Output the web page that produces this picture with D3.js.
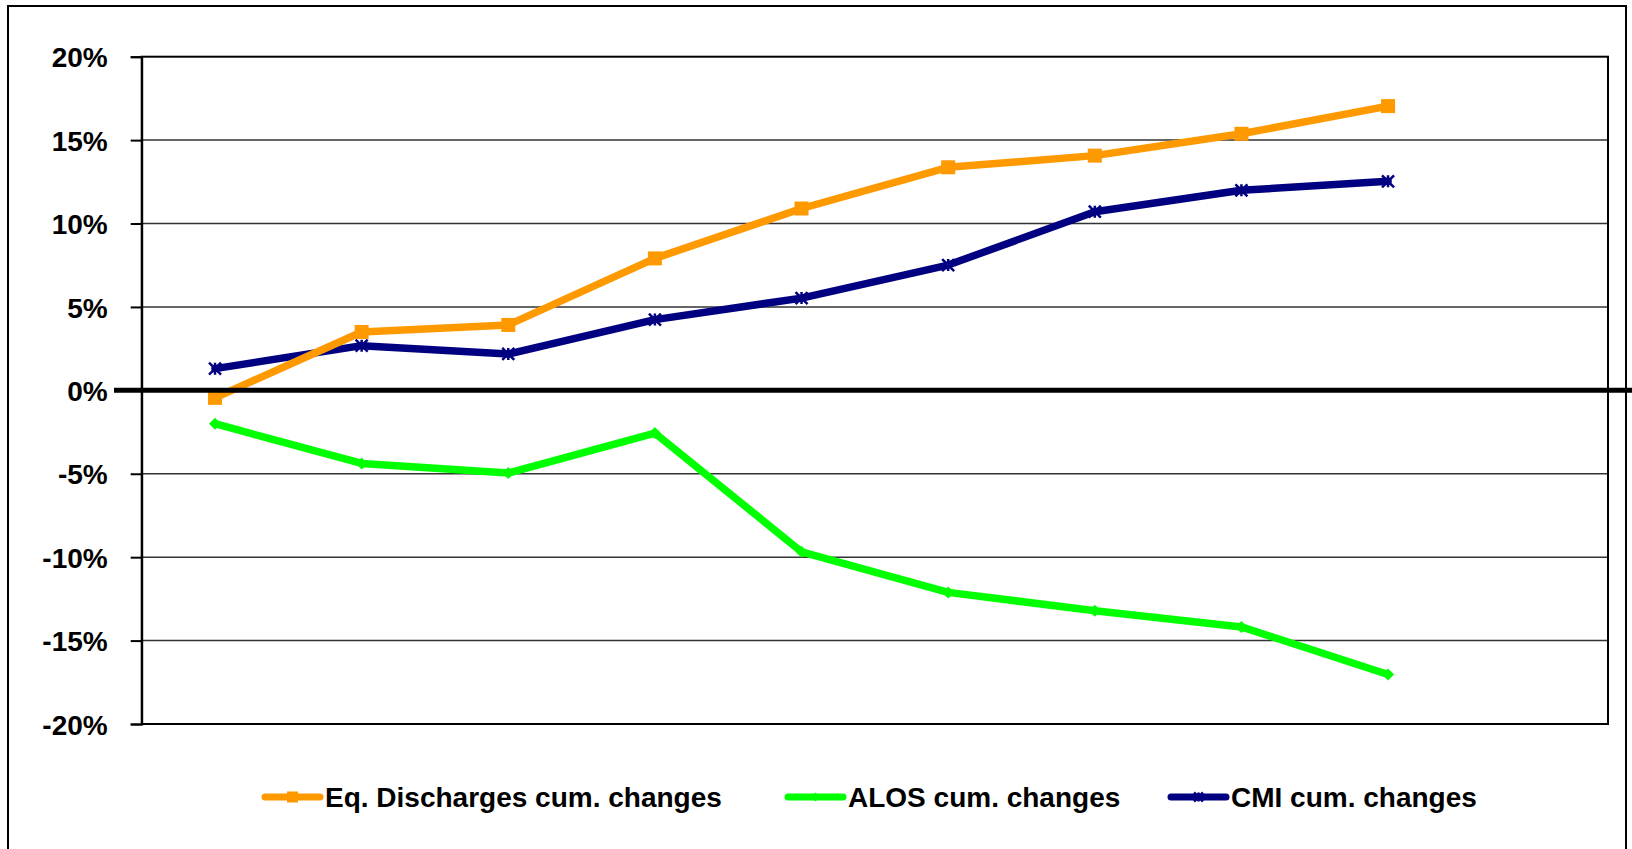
<!DOCTYPE html>
<html>
<head>
<meta charset="utf-8">
<script src="https://cdn.jsdelivr.net/npm/d3@7"></script>
<style>
  html, body { margin: 0; padding: 0; background: #fff; }
  svg { display: block; }
  text { font-family: "Liberation Sans", Arial, sans-serif; font-weight: bold; fill: #000; }
</style>
</head>
<body>
<svg id="chart" width="1632" height="849"></svg>
<script>
// ---- data ----
const categories = ["P1","P2","P3","P4","P5","P6","P7","P8","P9","P10"];
const eqDischarges = [-0.45, 3.5, 3.92, 7.91, 10.9, 13.37, 14.07, 15.38, 17.04];
const alos = [-2.0, -4.38, -4.96, -2.56, -9.68, -12.11, -13.21, -14.18, -17.03];
const cmi = [1.3, 2.68, 2.18, 4.24, 5.53, 7.51, 10.71, 11.99, 12.53];
const yTicks = [-20, -15, -10, -5, 0, 5, 10, 15, 20];
const seriesNames = ["Eq. Discharges cum. changes", "ALOS cum. changes", "CMI cum. changes"];
const seriesColors = ["#FF9900", "#00FF00", "#000080"];

const svg = d3.select("#chart");

// outer frame
svg.append("rect").attr("x", 8).attr("y", 6).attr("width", 1618).attr("height", 860)
  .attr("fill", "none").attr("stroke", "#000").attr("stroke-width", 2);

const plot = { left: 141.7, right: 1608, top: 56.7, bottom: 724 };

const x = d3.scaleBand().domain(categories).range([plot.left, plot.right]);
const y = d3.scaleLinear().domain([-20, 20]).range([plot.bottom, plot.top]);

// gridlines
svg.append("g").selectAll("line").data(yTicks.filter(t => t !== 0 && t !== 20 && t !== -20)).join("line")
  .attr("x1", plot.left).attr("x2", plot.right)
  .attr("y1", d => y(d)).attr("y2", d => y(d))
  .attr("stroke", "#333").attr("stroke-width", 1.5);

// plot border
svg.append("rect").attr("x", plot.left).attr("y", plot.top)
  .attr("width", plot.right - plot.left).attr("height", plot.bottom - plot.top)
  .attr("fill", "none").attr("stroke", "#000").attr("stroke-width", 2);

// y axis
const yAxis = d3.axisLeft(y).tickValues(yTicks).tickSize(11).tickPadding(23)
  .tickFormat(d => d + "%");
const gy = svg.append("g").attr("transform", `translate(${plot.left},0)`).call(yAxis);
gy.select(".domain").attr("stroke", "#000").attr("stroke-width", 2);
gy.selectAll(".tick line").attr("stroke", "#000").attr("stroke-width", 2);
gy.selectAll(".tick text").attr("font-size", 28).attr("font-weight", "bold")
  .attr("font-family", "'Liberation Sans', Arial, sans-serif").attr("fill", "#000").attr("dy", "0.36em");

// series
const allSeries = [eqDischarges, alos, cmi];
const line = d3.line().x((d, i) => x(categories[i]) + x.bandwidth() / 2).y(d => y(d));

function marker(g, type, color, cx, cy, s) {
  if (type === 0) {
    g.append("rect").attr("x", cx - s / 2).attr("y", cy - s / 2).attr("width", s).attr("height", s).attr("fill", color);
  } else if (type === 1) {
    g.append("path").attr("d", `M${cx},${cy - s / 2}L${cx + s / 2},${cy}L${cx},${cy + s / 2}L${cx - s / 2},${cy}Z`).attr("fill", color);
  } else {
    const h = s / 2;
    g.append("path").attr("d", `M${cx - h},${cy - h}L${cx + h},${cy + h}M${cx - h},${cy + h}L${cx + h},${cy - h}M${cx},${cy - h}L${cx},${cy + h}`)
      .attr("stroke", color).attr("stroke-width", 2.5).attr("fill", "none");
  }
}

const drawOrder = [1, 2, 0];
drawOrder.forEach(k => {
  const g = svg.append("g");
  g.append("path").datum(allSeries[k]).attr("d", line)
    .attr("fill", "none").attr("stroke", seriesColors[k]).attr("stroke-width", 7.5)
    .attr("stroke-linejoin", "round").attr("stroke-linecap", "round");
  allSeries[k].forEach((v, i) => {
    marker(g, k, seriesColors[k], x(categories[i]) + x.bandwidth() / 2, y(v), k === 0 ? 14 : 12);
  });
});

// zero line
svg.append("line").attr("x1", 114).attr("x2", 1632).attr("y1", y(0)).attr("y2", y(0))
  .attr("stroke", "#000").attr("stroke-width", 5);

// legend
const legendX = [265, 788, 1171];
const legendY = 797;
seriesNames.forEach((name, k) => {
  const g = svg.append("g");
  const x0 = legendX[k], x1 = x0 + 55;
  g.append("line").attr("x1", x0).attr("x2", x1).attr("y1", legendY).attr("y2", legendY)
    .attr("stroke", seriesColors[k]).attr("stroke-width", 7).attr("stroke-linecap", "round");
  marker(g, k, seriesColors[k], (x0 + x1) / 2, legendY, k === 0 ? 11 : 9);
  g.append("text").attr("x", x1 + 5).attr("y", legendY + 10).attr("font-size", 28).text(name);
});
</script>
</body>
</html>
